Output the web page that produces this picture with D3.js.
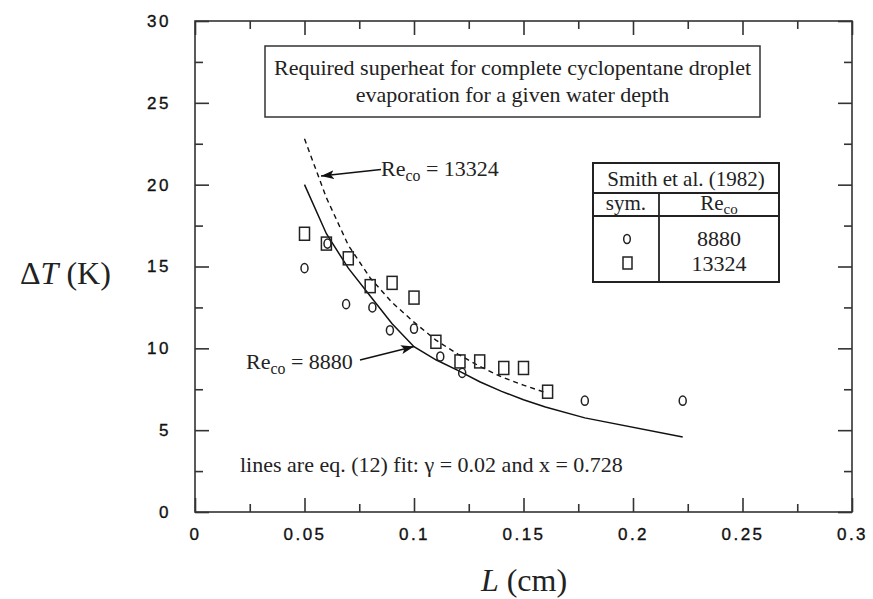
<!DOCTYPE html>
<html>
<head>
<meta charset="utf-8">
<script src="https://cdn.jsdelivr.net/npm/d3@7/dist/d3.min.js"></script>
<style>
  html, body { margin: 0; padding: 0; background: #fff; }
  svg { display: block; }
  .tick text { font-family: "Liberation Sans", Arial, sans-serif; font-size: 17px; fill: #111; letter-spacing: 2.5px; stroke: #111; stroke-width: 0.35px; }
  .serif { font-family: "Liberation Serif", "Times New Roman", serif; fill: #222; }
</style>
</head>
<body>
<svg id="chart" width="873" height="599"></svg>
<script>
// Axis ticks
const xMajorTicks = [0, 0.05, 0.1, 0.15, 0.2, 0.25, 0.3];
const xTickLabels = ["0", "0.05", "0.1", "0.15", "0.2", "0.25", "0.3"];
const xMinorTicks = [0.025, 0.075, 0.125, 0.175, 0.225, 0.275];
const yMajorTicks = [0, 5, 10, 15, 20, 25, 30];
const yTickLabels = ["0", "5", "10", "15", "20", "25", "30"];
const yMinorTicks = [2.5, 7.5, 12.5, 17.5, 22.5, 27.5];

// Smith et al. (1982) measurements, Re_co = 8880 (circles)
const circL  = [0.050, 0.0605, 0.069, 0.081, 0.089, 0.100, 0.112, 0.122, 0.178, 0.2227];
const circDT = [14.9, 16.4, 12.7, 12.5, 11.1, 11.2, 9.5, 8.5, 6.8, 6.8];

// Smith et al. (1982) measurements, Re_co = 13324 (squares)
const sqL  = [0.050, 0.060, 0.070, 0.080, 0.090, 0.100, 0.110, 0.121, 0.130, 0.141, 0.150, 0.161];
const sqDT = [17.0, 16.4, 15.5, 13.8, 14.0, 13.1, 10.4, 9.2, 9.2, 8.8, 8.8, 7.35];

// eq. (12) fit, Re_co = 8880 (solid line)
const fit8880L  = [0.05, 0.06, 0.07, 0.08, 0.09, 0.10, 0.11, 0.12, 0.13, 0.14, 0.15, 0.16, 0.178, 0.2227];
const fit8880DT = [20.0, 17.0, 14.9, 13.2, 11.5, 10.1, 9.3, 8.65, 7.96, 7.37, 6.86, 6.42, 5.75, 4.58];

// eq. (12) fit, Re_co = 13324 (dashed line)
const fit13324L  = [0.05, 0.06, 0.07, 0.08, 0.09, 0.10, 0.11, 0.12, 0.13, 0.14, 0.15, 0.16];
const fit13324DT = [22.8, 19.2, 16.3, 14.3, 12.8, 11.6, 10.5, 9.65, 8.9, 8.25, 7.75, 7.3];

const svg = d3.select("#chart");
const x = d3.scaleLinear().domain([0, 0.3]).range([195, 852]);
const y = d3.scaleLinear().domain([0, 30]).range([512, 21]);
const axisColor = "#333";

// Frame
svg.append("rect")
  .attr("x", x(0)).attr("y", y(30))
  .attr("width", x(0.3) - x(0)).attr("height", y(0) - y(30))
  .attr("fill", "none").attr("stroke", axisColor).attr("stroke-width", 1.6);

function styleAxis(g) {
  g.select(".domain").remove();
  g.selectAll(".tick line").attr("stroke", axisColor).attr("stroke-width", 1.6);
}

// Bottom axis: labelled major ticks + minor ticks, all pointing inward
svg.append("g").attr("transform", `translate(0,${y(0)})`)
  .call(d3.axisBottom(x).tickValues(xMajorTicks).tickSize(-14).tickPadding(16)
    .tickFormat((d, i) => xTickLabels[i]))
  .call(styleAxis);
svg.append("g").attr("transform", `translate(0,${y(0)})`)
  .call(d3.axisBottom(x).tickValues(xMinorTicks).tickSize(-8).tickFormat(""))
  .call(styleAxis);
// Top axis
svg.append("g").attr("transform", `translate(0,${y(30)})`)
  .call(d3.axisTop(x).tickValues(xMajorTicks).tickSize(-14).tickFormat(""))
  .call(styleAxis);
svg.append("g").attr("transform", `translate(0,${y(30)})`)
  .call(d3.axisTop(x).tickValues(xMinorTicks).tickSize(-8).tickFormat(""))
  .call(styleAxis);
// Left axis
svg.append("g").attr("transform", `translate(${x(0)},0)`)
  .call(d3.axisLeft(y).tickValues(yMajorTicks).tickSize(-14).tickPadding(24)
    .tickFormat((d, i) => yTickLabels[i]))
  .call(styleAxis);
svg.append("g").attr("transform", `translate(${x(0)},0)`)
  .call(d3.axisLeft(y).tickValues(yMinorTicks).tickSize(-8).tickFormat(""))
  .call(styleAxis);
// Right axis
svg.append("g").attr("transform", `translate(${x(0.3)},0)`)
  .call(d3.axisRight(y).tickValues(yMajorTicks).tickSize(-14).tickFormat(""))
  .call(styleAxis);
svg.append("g").attr("transform", `translate(${x(0.3)},0)`)
  .call(d3.axisRight(y).tickValues(yMinorTicks).tickSize(-8).tickFormat(""))
  .call(styleAxis);

// Fit lines
const line = d3.line().x(d => x(d[0])).y(d => y(d[1]));
svg.append("path")
  .datum(fit8880L.map((l, i) => [l, fit8880DT[i]]))
  .attr("d", line).attr("fill", "none").attr("stroke", "#111").attr("stroke-width", 1.5);
svg.append("path")
  .datum(fit13324L.map((l, i) => [l, fit13324DT[i]]))
  .attr("d", line).attr("fill", "none").attr("stroke", "#111").attr("stroke-width", 1.4)
  .attr("stroke-dasharray", "5,4");

// Markers
svg.append("g").selectAll("ellipse")
  .data(circL.map((l, i) => [l, circDT[i]]))
  .join("ellipse")
  .attr("cx", d => x(d[0])).attr("cy", d => y(d[1]))
  .attr("rx", 3.5).attr("ry", 4.6)
  .attr("fill", "none").attr("stroke", "#222").attr("stroke-width", 1.5);
svg.append("g").selectAll("rect")
  .data(sqL.map((l, i) => [l, sqDT[i]]))
  .join("rect")
  .attr("x", d => x(d[0]) - 5).attr("y", d => y(d[1]) - 6.5)
  .attr("width", 10).attr("height", 13)
  .attr("fill", "none").attr("stroke", "#222").attr("stroke-width", 1.5);

// Arrowhead
svg.append("defs").append("marker")
  .attr("id", "arrow").attr("viewBox", "0 0 13 9")
  .attr("refX", 13).attr("refY", 4.5)
  .attr("markerWidth", 13).attr("markerHeight", 9)
  .attr("markerUnits", "userSpaceOnUse").attr("orient", "auto")
  .append("path").attr("d", "M0,0 L13,4.5 L0,9 L3,4.5 Z").attr("fill", "#111");

// Re_co label helper
function reLabel(xp, yp, value, size) {
  const t = svg.append("text").attr("class", "serif").attr("x", xp).attr("y", yp)
    .attr("font-size", size);
  t.append("tspan").text("Re");
  t.append("tspan").attr("font-size", size * 0.72).attr("dy", 5).text("co");
  t.append("tspan").attr("dy", -5).text(" = " + value);
  return t;
}

reLabel(381, 176, "13324", 22);
svg.append("line").attr("x1", 381).attr("y1", 169.5).attr("x2", 321).attr("y2", 176)
  .attr("stroke", "#111").attr("stroke-width", 1.4).attr("marker-end", "url(#arrow)");

reLabel(246, 369, "8880", 22);
svg.append("line").attr("x1", 360).attr("y1", 360).attr("x2", 414).attr("y2", 346.5)
  .attr("stroke", "#111").attr("stroke-width", 1.4).attr("marker-end", "url(#arrow)");

// Title box
svg.append("rect").attr("x", 265).attr("y", 46).attr("width", 495).attr("height", 71)
  .attr("fill", "#fff").attr("stroke", "#333").attr("stroke-width", 1.5);
svg.append("text").attr("class", "serif").attr("x", 512.5).attr("y", 75)
  .attr("text-anchor", "middle").attr("font-size", 22)
  .text("Required superheat for complete cyclopentane droplet");
svg.append("text").attr("class", "serif").attr("x", 512.5).attr("y", 102)
  .attr("text-anchor", "middle").attr("font-size", 22)
  .text("evaporation for a given water depth");

// Fit note
svg.append("text").attr("class", "serif").attr("x", 240).attr("y", 472)
  .attr("font-size", 22)
  .text("lines are eq. (12) fit: γ = 0.02 and x = 0.728");

// Legend table
const lg = svg.append("g");
lg.append("rect").attr("x", 593).attr("y", 163).attr("width", 186).attr("height", 119)
  .attr("fill", "#fff").attr("stroke", "#222").attr("stroke-width", 2);
lg.append("line").attr("x1", 593).attr("x2", 779).attr("y1", 193).attr("y2", 193)
  .attr("stroke", "#222").attr("stroke-width", 1.8);
lg.append("line").attr("x1", 593).attr("x2", 779).attr("y1", 216).attr("y2", 216)
  .attr("stroke", "#222").attr("stroke-width", 1.8);
lg.append("line").attr("x1", 659).attr("x2", 659).attr("y1", 193).attr("y2", 282)
  .attr("stroke", "#222").attr("stroke-width", 1.8);
lg.append("text").attr("class", "serif").attr("x", 686).attr("y", 186)
  .attr("text-anchor", "middle").attr("font-size", 21).text("Smith et al. (1982)");
lg.append("text").attr("class", "serif").attr("x", 626).attr("y", 210)
  .attr("text-anchor", "middle").attr("font-size", 21).text("sym.");
const hdr = lg.append("text").attr("class", "serif").attr("x", 719).attr("y", 210)
  .attr("text-anchor", "middle").attr("font-size", 21);
hdr.append("tspan").text("Re");
hdr.append("tspan").attr("font-size", 15).attr("dy", 4).text("co");
lg.append("ellipse").attr("cx", 627).attr("cy", 239).attr("rx", 3.3).attr("ry", 4.5)
  .attr("fill", "none").attr("stroke", "#222").attr("stroke-width", 1.5);
lg.append("rect").attr("x", 623).attr("y", 257).attr("width", 9).attr("height", 12)
  .attr("fill", "none").attr("stroke", "#222").attr("stroke-width", 1.5);
lg.append("text").attr("class", "serif").attr("x", 719).attr("y", 246)
  .attr("text-anchor", "middle").attr("font-size", 22).text("8880");
lg.append("text").attr("class", "serif").attr("x", 719).attr("y", 271)
  .attr("text-anchor", "middle").attr("font-size", 22).text("13324");

// Axis titles
const yt = svg.append("text").attr("class", "serif").attr("x", 20).attr("y", 284)
  .attr("font-size", 32);
yt.append("tspan").text("Δ");
yt.append("tspan").attr("font-style", "italic").text("T");
yt.append("tspan").text(" (K)");

const xt = svg.append("text").attr("class", "serif").attr("x", 524).attr("y", 591)
  .attr("text-anchor", "middle").attr("font-size", 32);
xt.append("tspan").attr("font-style", "italic").text("L");
xt.append("tspan").text(" (cm)");
</script>
</body>
</html>
